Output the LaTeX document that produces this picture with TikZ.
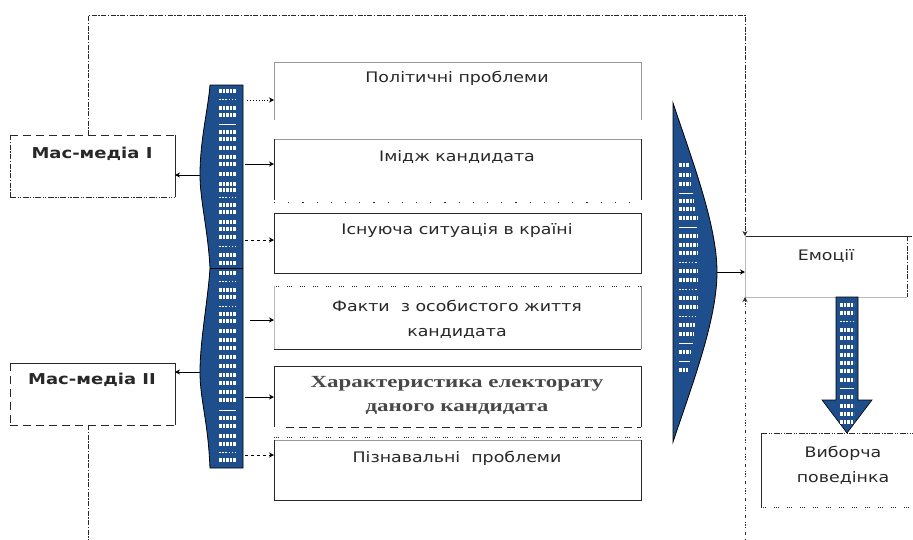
\documentclass[tikz,border=0pt]{standalone}
\usepackage{fontspec}
\setmainfont{DejaVu Sans}
\newfontfamily\sansw[FakeStretch=1.2]{DejaVu Sans}
\newfontfamily\serifw[FakeStretch=1.35]{Liberation Serif}
\usetikzlibrary{arrows.meta}
\definecolor{barblue}{RGB}{31,78,140}
\definecolor{ink}{RGB}{40,40,40}
\begin{document}
\begin{tikzpicture}[x=1pt,y=-1pt,
  box/.style={draw=none,inner sep=0pt,outer sep=0pt},
  txt/.style={font=\sansw\fontsize{14.5}{25}\selectfont,align=center,inner sep=0pt,text=ink},
  btxt/.style={font=\sansw\bfseries\fontsize{15}{20}\selectfont,align=center,inner sep=0pt,text=ink},
  stxt/.style={font=\serifw\bfseries\fontsize{17}{24}\selectfont,align=center,inner sep=0pt,text=ink!85},
  solidb/.style={draw=ink,line width=1pt},
  lightb/.style={draw=gray!55,line width=0.7pt},
  dashb/.style={draw=ink,line width=1pt,dash pattern=on 8pt off 5pt},
  ddot/.style={draw=ink,line width=0.9pt,dash pattern=on 5pt off 1.5pt on 1.5pt off 1.5pt},
  dddot/.style={draw=ink,line width=0.9pt,dash pattern=on 6pt off 1.5pt on 1.2pt off 1.2pt on 1.2pt off 1.5pt},
  sdots/.style={draw=ink,line width=1pt,dash pattern=on 1.2pt off 13pt},
  gdots/.style={draw=ink,line width=0.8pt,dash pattern=on 1pt off 1pt on 1pt off 1pt on 1pt off 8pt},
  arr/.style={draw=black,line width=0.9pt,-{Stealth[length=5pt,width=5pt]}},
  gmark/.style={draw=white,line width=3.2pt,dash pattern=on 2.6pt off 0.9pt},
  dmark/.style={draw=white,line width=1pt,dash pattern=on 1.6pt off 1.6pt},
  lmark/.style={draw=white,line width=1pt}
]
\useasboundingbox (0,0) rectangle (913,539);

% ---------- mass media boxes ----------
\node[box,minimum width=165pt,minimum height=62pt] (m1) at (92.5,166) {};
\draw[dashb] (m1.north west) -- (m1.north east);
\draw[ddot] (m1.north west) -- (m1.south west);
\draw[dddot] (m1.south west) -- (m1.south east);
\draw[solidb] (m1.north east) -- (m1.south east);
\node[btxt] (m1t) at (92,154) {Мас-медіа I};

\node[box,minimum width=165pt,minimum height=62pt] (m2) at (92.5,394) {};
\draw[solidb] (m2.north west) -- (m2.north east) -- (m2.south east);
\draw[dashb] (m2.north west) -- (m2.south west);
\draw[dashb] (m2.south west) -- (m2.south east);
\node[btxt] (m2t) at (92,380) {Мас-медіа II};

% ---------- left blue brace bar ----------
\coordinate (b1) at (200,175);
\coordinate (b2) at (200,372);
\fill[barblue,draw=black,line width=0.8pt]
  (210,85) -- (243,85) -- (243,468) -- (210,468)
  .. controls (208,420) and (200,400) .. (b2)
  .. controls (200,340) and (208,300) .. (210,268)
  .. controls (208,230) and (200,200) .. (b1)
  .. controls (200,140) and (208,110) .. (210,85) -- cycle;
\draw[black,line width=0.8pt] (210,268) -- (243,268);
\foreach \y/\t in {91/m,99/d,108/m,115/m,124/l,132/m,139/m,148/m,157/m,164/m,174/m,184/m,190/m,197/d,205/m,212/m,222/m,229/m,237/m,246/d,255/m,263/m,
  273/m,281/d,290/m,297/m,306/d,314/m,321/m,331/m,340/m,348/m,357/m,366/m,375/m,383/m,392/m,400/m,410/l,418/m,426/m,436/m,444/m,452/d,460/m}{
  \if m\t \draw[gmark] (219,\y) -- (236,\y);\fi
  \if d\t \draw[dmark] (219,\y) -- (236,\y);\fi
  \if l\t \draw[lmark] (219,\y) -- (236,\y);\fi
}
\draw[arr] (b1) -- (b1 -| m1.east);
\draw[arr] (b2) -- (b2 -| m2.east);

% ---------- middle boxes ----------
\node[box,minimum width=367pt,minimum height=58pt] (p1) at (457.5,91) {};
\draw[draw=gray!80,line width=0.8pt] (p1.south west) -- (p1.north west) -- (p1.north east) -- (p1.south east);
\node[txt] (p1t) at (457,78) {Політичні проблеми};

\node[box,minimum width=367pt,minimum height=61pt] (p2) at (457.5,169.5) {};
\draw[draw=gray!80,line width=0.8pt] (p2.north west) -- (p2.north east);
\draw[solidb] (p2.north west) -- (p2.south west);
\draw[solidb] (p2.north east) -- (p2.south east);
\draw[sdots] ([yshift=-2pt]p2.south west) -- ([yshift=-2pt]p2.south east);
\node[txt] (p2t) at (457,157) {Імідж кандидата};

\node[box,minimum width=367pt,minimum height=60pt] (p3) at (457.5,243) {};
\draw[solidb] (p3.north west) rectangle (p3.south east);
\node[txt] (p3t) at (457,230) {Існуюча ситуація в країні};

\node[box,minimum width=367pt,minimum height=63pt] (p4) at (457.5,317.5) {};
\draw[gdots] (p4.north west) -- (p4.north east);
\draw[lightb] (p4.north west) -- (p4.south west);
\draw[draw=gray!90,line width=0.9pt] (p4.north east) -- (p4.south east);
\draw[solidb] (p4.south west) -- (p4.south east);
\node[txt] (p4t) at (457,319) {Факти \ з особистого життя\\кандидата};

\node[box,minimum width=367pt,minimum height=61pt] (p5) at (457.5,396.5) {};
\draw[solidb] (p5.south west) -- (p5.north west) -- (p5.north east) -- (p5.south east);
\draw[dashb] ([xshift=12pt]p5.south west) -- (p5.south east);
\node[stxt] (p5t) at (457,395) {Характеристика електорату\\даного кандидата};

\node[box,minimum width=367pt,minimum height=60pt] (p6) at (457.5,470) {};
\draw[gdots] ([yshift=3pt]p6.north west) -- ([yshift=3pt]p6.north east);
\draw[draw=gray!80,line width=0.8pt] (p6.north west) -- (p6.north east);
\draw[solidb] (p6.north west) -- (p6.south west) -- (p6.south east) -- (p6.north east);
\node[txt] (p6t) at (457,458) {Пізнавальні \ проблеми};

% arrows from bar to the boxes
\draw[arr,dotted] (247,100) -- ([yshift=-9pt]p1.west);
\draw[arr] (245,164) -- ([yshift=5.5pt]p2.west);
\draw[arr,dashed] (245,240) -- ([yshift=3pt]p3.west);
\draw[arr] (250,320) -- ([yshift=-2.5pt]p4.west);
\draw[arr] (245,397) -- ([yshift=-0.5pt]p5.west);
\draw[arr,dashed] (245,455) -- ([yshift=15pt]p6.west);

% ---------- right blue shape ----------
\coordinate (tipR) at (717,272);
\fill[barblue,draw=black,line width=0.8pt]
  (673,103) .. controls (692,160) and (717,225) .. (tipR)
  .. controls (717,320) and (692,385) .. (673,442) -- cycle;
\foreach \y/\t/\w in {165/m/10,175/m/11,184/m/12,193/l/14,201/m/15,209/m/16,218/m/18,227/l/18,236/m/18,245/m/18,253/m/18,262/d/18,271/m/18,280/m/18,289/d/18,298/m/18,307/m/18,316/d/17,325/m/16,334/m/15,343/l/14,352/m/12,361/l/11,370/m/9}{
  \if m\t \draw[gmark] (679,\y) -- ++(\w,0);\fi
  \if d\t \draw[dmark] (679,\y) -- ++(\w,0);\fi
  \if l\t \draw[lmark] (679,\y) -- ++(\w,0);\fi
}

% ---------- emotions ----------
\node[box,minimum width=162pt,minimum height=61pt] (e) at (826,266.5) {};
\draw[solidb] (e.north west) -- ([xshift=5pt]e.north east);
\draw[lightb] (e.north west) -- (e.south west) -- (e.south east);
\draw[ddot] (e.north east) -- (e.south east);
\node[txt] (et) at (826,256) {Емоції};
\draw[arr] (tipR) -- (tipR -| e.west);

% ---------- choice behaviour ----------
\node[box,minimum width=159pt,minimum height=74pt] (v) at (840.5,470) {};
\draw[dddot] (v.north west) -- (v.north east);
\draw[solidb] (v.north west) -- (v.south west);
\draw[gdots] (v.south west) -- (v.south east);
\node[txt] (vt) at (843,465) {Виборча\\поведінка};

% big down arrow
\fill[barblue,draw=black,line width=0.6pt]
  (836,297) -- (858,297) -- (858,400) -- (872,400) -- (847,433)
  -- (822,400) -- (836,400) -- cycle;
\foreach \y/\t in {305/m,313/m,321/d,330/m,338/m,347/m,355/m,363/m,371/m,380/m,388/l,397/m,406/m,414/m,422/m}{
  \if m\t \draw[gmark] (840,\y) -- ++(14,0);\fi
  \if d\t \draw[dmark] (840,\y) -- ++(14,0);\fi
  \if l\t \draw[lmark] (840,\y) -- ++(14,0);\fi
}

% ---------- feedback lines ----------
\coordinate (tc) at (745,15);
\coordinate (bl) at (88,545);
\coordinate (br) at (745,545);
\draw[ddot,-{Stealth[length=5pt,width=5pt]}] ([xshift=-4.5pt]m1.north) |- (tc) -- (e.north west);
\draw[ddot] ([xshift=-4.5pt]m2.south) -- ([xshift=-4.5pt]m2.south |- bl);
\draw[draw=ink,line width=1pt,dash pattern=on 1.2pt off 1.2pt on 1.2pt off 1.2pt on 1.2pt off 4pt on 3pt off 4pt,-{Stealth[length=5pt,width=5pt]}] (br) -- (e.south west);
\end{tikzpicture}
\end{document}
